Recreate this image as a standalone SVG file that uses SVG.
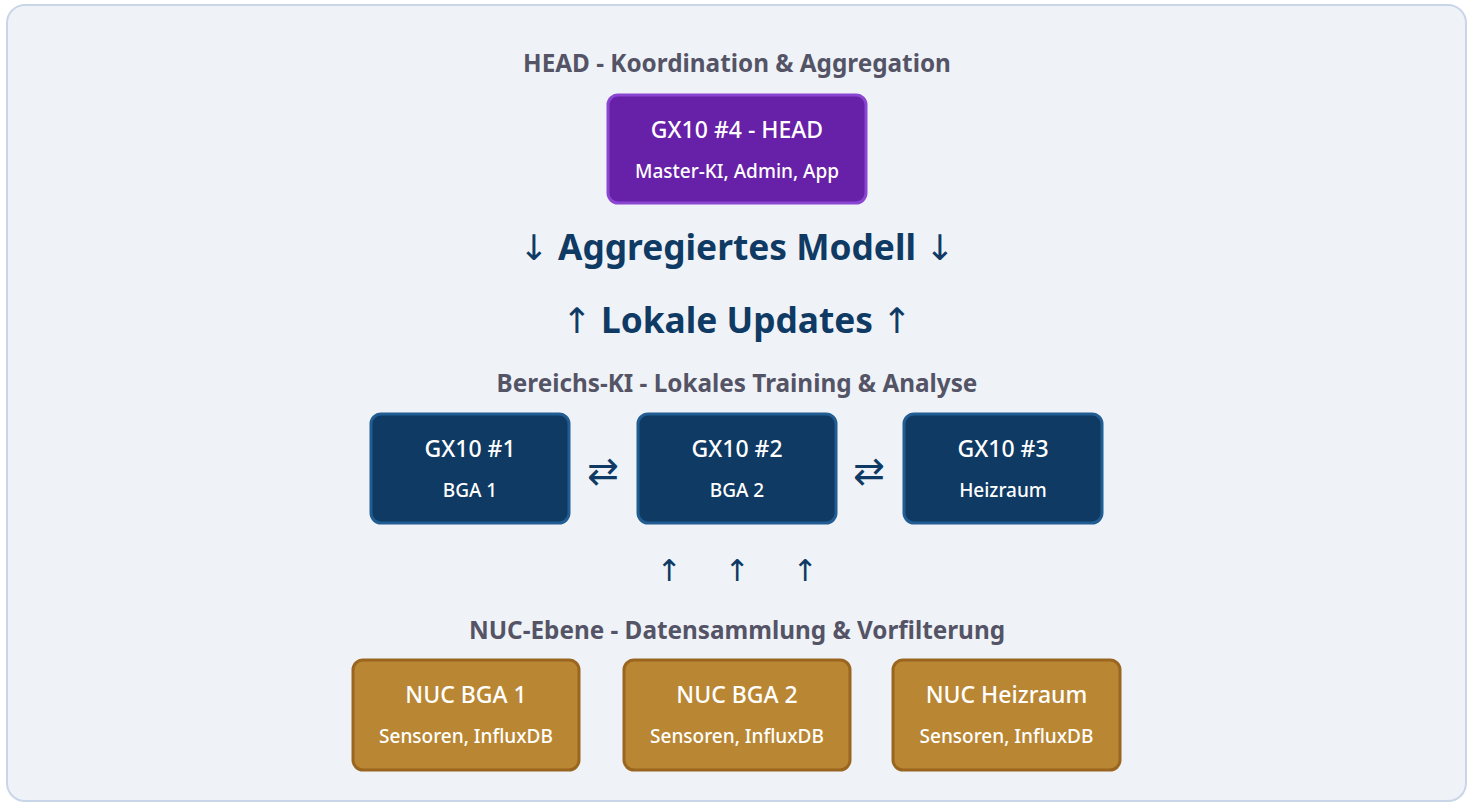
<svg xmlns="http://www.w3.org/2000/svg" width="1474" height="804" viewBox="0 0 1474 804">
<style>
text { font-family: "Noto Sans", "Open Sans", "DejaVu Sans", sans-serif; text-anchor: middle; }
.sec { font-size: 24.3px; font-weight: bold; fill: #545466; }
.flow { font-size: 35.3px; font-weight: bold; fill: #0f3a64; }
.n { font-weight: normal; }
.t1 { font-size: 23px; font-weight: 500; fill: #ffffff; }
.t2 { font-size: 19px; font-weight: 500; fill: #ffffff; }
.head { fill: #6720a8; stroke: #8a46d2; stroke-width: 3; }
.gx { fill: #0f3a63; stroke: #215c92; stroke-width: 3; }
.nuc { fill: #b98734; stroke: #99651f; stroke-width: 3; }
.arr { font-size: 30px; fill: #0f3a64; }
.swap { font-size: 38px; fill: #0f3a64; }
</style>
<rect x="7" y="5" width="1459" height="796" rx="18" fill="#eff3f8" stroke="#c9d6e8" stroke-width="2"/>
<text class="sec" x="737" y="72">HEAD - Koordination &amp; Aggregation</text>
<g id="head">
<rect class="head" x="608" y="95" width="258" height="108" rx="10"/>
<text class="t1" x="737" y="138">GX10 #4 - HEAD</text>
<text class="t2" x="737" y="178">Master-KI, Admin, App</text>
</g>
<text class="flow" x="737" y="260"><tspan class="n">↓</tspan> Aggregiertes Modell <tspan class="n">↓</tspan></text>
<text class="flow" x="737" y="333"><tspan class="n">↑</tspan> Lokale Updates <tspan class="n">↑</tspan></text>
<text class="sec" x="737" y="392">Bereichs-KI - Lokales Training &amp; Analyse</text>
<g id="gx1">
<rect class="gx" x="371" y="414" width="198" height="109" rx="10"/>
<text class="t1" x="470" y="457">GX10 #1</text>
<text class="t2" x="470" y="497">BGA 1</text>
</g>
<g id="gx2">
<rect class="gx" x="638" y="414" width="198" height="109" rx="10"/>
<text class="t1" x="737" y="457">GX10 #2</text>
<text class="t2" x="737" y="497">BGA 2</text>
</g>
<g id="gx3">
<rect class="gx" x="904" y="414" width="198" height="109" rx="10"/>
<text class="t1" x="1003" y="457">GX10 #3</text>
<text class="t2" x="1003" y="497">Heizraum</text>
</g>
<g id="connectors">
<text class="swap" x="603" y="484">⇄</text>
<text class="swap" x="869" y="484">⇄</text>
<text class="arr" x="669" y="581">↑</text>
<text class="arr" x="737" y="581">↑</text>
<text class="arr" x="805" y="581">↑</text>
</g>
<text class="sec" x="737" y="639">NUC-Ebene - Datensammlung &amp; Vorfilterung</text>
<g id="nuc1">
<rect class="nuc" x="353" y="660" width="226" height="110" rx="10"/>
<text class="t1" x="466" y="703">NUC BGA 1</text>
<text class="t2" x="466" y="743">Sensoren, InfluxDB</text>
</g>
<g id="nuc2">
<rect class="nuc" x="624" y="660" width="226" height="110" rx="10"/>
<text class="t1" x="737" y="703">NUC BGA 2</text>
<text class="t2" x="737" y="743">Sensoren, InfluxDB</text>
</g>
<g id="nuc3">
<rect class="nuc" x="893" y="660" width="227" height="110" rx="10"/>
<text class="t1" x="1006.5" y="703">NUC Heizraum</text>
<text class="t2" x="1006.5" y="743">Sensoren, InfluxDB</text>
</g>
</svg>
